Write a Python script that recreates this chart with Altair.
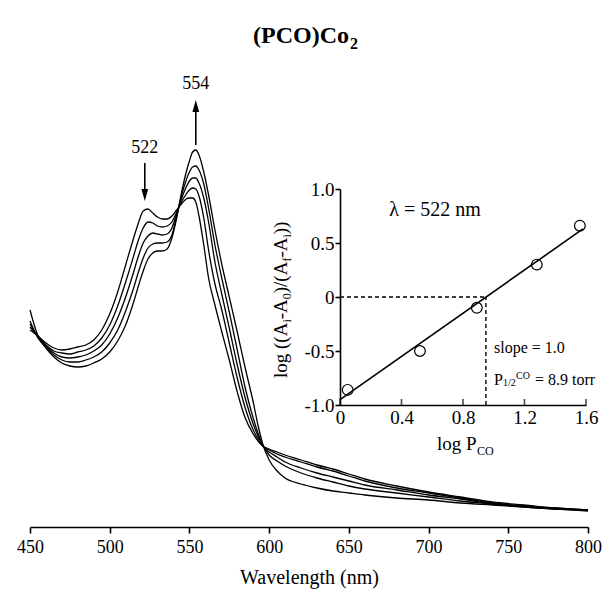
import altair as alt
import pandas as pd

# ---------------- data ----------------
wavelength = [450, 455, 460, 465, 470, 475, 480, 485, 490, 495,
              500, 505, 510, 515, 518, 521, 524, 527, 530, 533,
              536, 539, 542, 545, 548, 550, 552, 554, 556, 559,
              562, 566, 570, 575, 580, 585, 590, 593, 596, 600,
              605, 610, 620, 630, 640, 650, 660, 680, 700, 720,
              740, 760, 780, 800]

# absorbance (arbitrary units), five CO pressures
spec_0 = [197, 191, 184, 179, 177, 178, 180, 182, 187, 197,
          213, 235, 262, 289, 304, 316, 318, 314, 310, 308,
          308, 311, 317, 323, 328, 329, 329, 325, 311, 282,
          249, 222, 197, 167, 135, 109, 93, 86, 81, 78,
          75, 72, 67, 62, 58, 53, 48, 41, 35, 30,
          25, 22, 19, 17]
spec_1 = [200, 191, 182, 176, 174, 173, 175, 177, 181, 189,
          202, 221, 245, 271, 287, 299, 305, 304, 301, 300,
          301, 305, 315, 325, 333, 337, 339, 338, 331, 309,
          277, 243, 219, 184, 149, 119, 97, 88, 81, 77,
          73, 70, 65, 60, 56, 51, 46, 39, 34, 29,
          24, 21, 19, 17]
spec_2 = [203, 190, 181, 174, 170, 169, 170, 172, 176, 182,
          193, 209, 230, 255, 271, 284, 291, 294, 293, 292,
          293, 299, 313, 328, 340, 346, 349, 349, 344, 329,
          305, 265, 235, 199, 162, 129, 103, 91, 81, 75,
          70, 65, 59, 54, 50, 46, 42, 37, 32, 28,
          23, 21, 18, 17]
spec_3 = [206, 189, 180, 172, 167, 165, 165, 167, 170, 175,
          184, 197, 216, 239, 255, 269, 279, 283, 284, 284,
          285, 292, 311, 331, 347, 355, 360, 361, 357, 343,
          319, 282, 251, 215, 177, 139, 109, 94, 82, 72,
          66, 61, 54, 49, 45, 41, 38, 34, 30, 26,
          23, 20, 18, 17]
spec_4 = [217, 191, 179, 170, 164, 161, 160, 161, 164, 168,
          175, 186, 202, 225, 241, 256, 268, 274, 276, 276,
          278, 289, 309, 334, 355, 366, 375, 377, 372, 355,
          332, 297, 265, 230, 195, 159, 125, 102, 83, 67,
          56, 49, 43, 39, 36, 34, 32, 29, 27, 24,
          22, 20, 18, 16]
series_names = ["P0", "P1", "P2", "P3", "P4"]

x_ticks = [450, 500, 550, 600, 650, 700, 750, 800]

# arrows: wavelength, tail and head level (same units as spectra)
arrow_wl = [522, 554]
arrow_tail = [364, 382]
arrow_tip = [332, 421]
arrow_label = ["522", "554"]
arrow_label_level = [379, 443]

# inset (Hill plot)
log_pco = [0.05, 0.52, 0.89, 1.28, 1.56]
log_ratio = [-0.86, -0.50, -0.10, 0.30, 0.66]
fit_x = [0.0, 1.58]
fit_y = [-0.95, 0.63]
half_x = 0.949
inset_xticks = [0, 0.4, 0.8, 1.2, 1.6]
inset_yticks = [-1.0, -0.5, 0, 0.5, 1.0]

title_main = "(PCO)Co"
title_sub = "2"
x_title = "Wavelength (nm)"
lambda_text = "λ = 522 nm"
slope_text = "slope = 1.0"

# ---------------- layout constants ----------------
PX0, PY0 = 30, 40          # plot-area origin in the page
W, H = 558, 487
FONT = "'Liberation Serif', 'Times New Roman', Times, serif"
INSET_X_RANGE = [340 - PX0, 586 - PX0]
INSET_Y_RANGE = [405 - PY0, 189 - PY0]

rows = []
for name, vals in zip(series_names, [spec_0, spec_1, spec_2, spec_3, spec_4]):
    for w, a in zip(wavelength, vals):
        rows.append({"wl": w, "absorb": a, "series": name})
spec_df = pd.DataFrame(rows)

xs = alt.Scale(domain=[450, 800], nice=False, zero=False)
ys = alt.Scale(domain=[0, H], nice=False, zero=False)

x_axis = alt.Axis(values=x_ticks, title=x_title, labelFont=FONT, labelFontSize=18,
                  titleFont=FONT, titleFontSize=20, titleFontWeight="normal",
                  labelColor="black", titleColor="black", domainColor="black",
                  tickColor="black", domainWidth=1.6, tickWidth=1.6, tickSize=6,
                  labelPadding=5, titlePadding=11, grid=False, labelFlush=False,
                  labelOverlap=False, orient="bottom")

curves = alt.Chart(spec_df).mark_line(color="black", strokeWidth=1.3,
                                      interpolate="monotone").encode(
    x=alt.X("wl:Q", scale=xs, axis=x_axis),
    y=alt.Y("absorb:Q", scale=ys, axis=None),
    detail="series:N",
)

arrow_df = pd.DataFrame({"wl": arrow_wl, "tail": arrow_tail, "tip": arrow_tip,
                         "label": arrow_label, "lab_y": arrow_label_level})
shafts = alt.Chart(arrow_df).mark_rule(color="black", strokeWidth=1.6).encode(
    x=alt.X("wl:Q", scale=xs), y=alt.Y("tail:Q", scale=ys), y2="tip:Q")
head_down = alt.Chart(arrow_df.iloc[[0]]).mark_point(
    shape="M0,1L-0.55,-1L0.55,-1Z", filled=True, color="black", size=150, opacity=1
).encode(x=alt.X("wl:Q", scale=xs), y=alt.Y("tip:Q", scale=ys))
head_up = alt.Chart(arrow_df.iloc[[1]]).mark_point(
    shape="M0,-1L-0.55,1L0.55,1Z", filled=True, color="black", size=150, opacity=1
).encode(x=alt.X("wl:Q", scale=xs), y=alt.Y("tip:Q", scale=ys))
arrow_text = alt.Chart(arrow_df).mark_text(font=FONT, fontSize=18, color="black",
                                           baseline="middle").encode(
    x=alt.X("wl:Q", scale=xs), y=alt.Y("lab_y:Q", scale=ys), text="label:N")

one = pd.DataFrame({"k": [0]})
t1 = alt.Chart(one).mark_text(text=title_main, font=FONT, fontSize=24, fontWeight="bold",
                              align="right", baseline="alphabetic", color="black").encode(
    x=alt.value(349 - PX0), y=alt.value(43 - PY0))
t2 = alt.Chart(one).mark_text(text=title_sub, font=FONT, fontSize=16, fontWeight="bold",
                              align="left", baseline="alphabetic", color="black").encode(
    x=alt.value(350 - PX0), y=alt.value(49 - PY0))

main = alt.layer(curves, shafts, head_down, head_up, arrow_text, t1, t2)

# ---------------- inset ----------------
ixs = alt.Scale(domain=[0, 1.6], range=INSET_X_RANGE, nice=False, zero=False)
iys = alt.Scale(domain=[-1, 1], range=INSET_Y_RANGE, nice=False, zero=False)

ix_axis = alt.Axis(values=inset_xticks, orient="bottom", offset=-(PY0 + H - 405),
                   title=None, labelFont=FONT, labelFontSize=19, labelColor="black",
                   domainColor="black", domainWidth=1.6, ticks=False, tickSize=0,
                   labelPadding=3, grid=False, labelFlush=False, labelOverlap=False,
                   labelExpr="datum.value == 0 ? '0' : format(datum.value, '.1f')")
iy_axis = alt.Axis(values=inset_yticks, orient="left", offset=-(340 - PX0),
                   title=None, labelFont=FONT, labelFontSize=19, labelColor="black",
                   domainColor="black", domainWidth=1.6, tickColor="black",
                   tickWidth=1.6, tickSize=5, labelPadding=1, grid=False,
                   labelFlush=False, labelOverlap=False, labelBaseline="middle",
                   labelExpr="datum.value == 0 ? '0' : (datum.value < 0 ? '-' + format(-datum.value, '.1f') : format(datum.value, '.1f'))")

pts_df = pd.DataFrame({"lp": log_pco, "lr": log_ratio})
fit_df = pd.DataFrame({"lp": fit_x, "lr": fit_y})

ipts = alt.Chart(pts_df).mark_point(shape="circle", filled=False, color="black",
                                    size=115, strokeWidth=1.2, opacity=1).encode(
    x=alt.X("lp:Q", scale=ixs, axis=ix_axis),
    y=alt.Y("lr:Q", scale=iys, axis=iy_axis))
ifit = alt.Chart(fit_df).mark_line(color="black", strokeWidth=1.6).encode(
    x=alt.X("lp:Q", scale=ixs), y=alt.Y("lr:Q", scale=iys))
dash_df = pd.DataFrame({"x1": [0.0, half_x], "x2": [half_x, half_x],
                        "y1": [0.0, -1.0], "y2": [0.0, 0.0]})
idash = alt.Chart(dash_df).mark_rule(color="black", strokeWidth=1.4,
                                     strokeDash=[4, 3]).encode(
    x=alt.X("x1:Q", scale=ixs), x2="x2:Q",
    y=alt.Y("y1:Q", scale=iys), y2="y2:Q")
itick_df = pd.DataFrame({"lp": inset_xticks, "lr": [-1.0] * len(inset_xticks)})
iticks = alt.Chart(itick_df).mark_tick(color="black", thickness=1.6, size=6,
                                       orient="vertical", yOffset=-3).encode(
    x=alt.X("lp:Q", scale=ixs), y=alt.Y("lr:Q", scale=iys))


def txt(s, x, y, size=19, align="left", angle=0, dx=0, dy=0, weight="normal"):
    props = dict(text=s, font=FONT, fontSize=size, align=align, baseline="alphabetic",
                 color="black", dx=dx, dy=dy, fontWeight=weight)
    if angle:
        props["angle"] = angle
    return alt.Chart(one).mark_text(**props).encode(
        x=alt.value(x - PX0), y=alt.value(y - PY0))


# rotated y title: log ((Ai-A0)/(Af-Ai))
YT_X, YT_Y = 287, 378
ytitle_parts = [("log ((A", 19, 0, 0), ("i", 12, 55.4, 4), ("-A", 19, 58.7, 0),
                ("0", 12, 78.7, 4), (")/(A", 19, 84.7, 0), ("f", 12, 116.4, 4),
                ("-A", 19, 120.4, 0), ("i", 12, 140.4, 4), ("))", 19, 143.7, 0)]
ytitle = [txt(s, YT_X, YT_Y, size=sz, angle=270, dx=dx, dy=dy)
          for s, sz, dx, dy in ytitle_parts]

xt_parts = [txt("log P", 437, 450, size=19), txt("CO", 477, 450, size=12, dy=5)]
lam = txt(lambda_text, 435, 216, size=20, align="center")
slope = txt(slope_text, 494, 353, size=16)
phalf = [txt("P", 494, 385, size=16), txt("1/2", 503, 385, size=10, dy=1),
         txt("CO", 516, 385, size=10, dy=-6), txt("= 8.9 torr", 535, 385, size=16)]

inset = alt.layer(ipts, ifit, idash, iticks, lam, slope, *phalf, *xt_parts, *ytitle)

chart = alt.layer(main, inset).resolve_scale(
    x="independent", y="independent").resolve_axis(
    x="independent", y="independent").properties(
    width=W, height=H, autosize="none",
    padding={"left": PX0, "top": PY0, "right": 605 - PX0 - W, "bottom": 593 - PY0 - H},
    background="white",
).configure_view(stroke=None)

chart.save("out.html", embed_options={"renderer": "svg", "actions": False})
